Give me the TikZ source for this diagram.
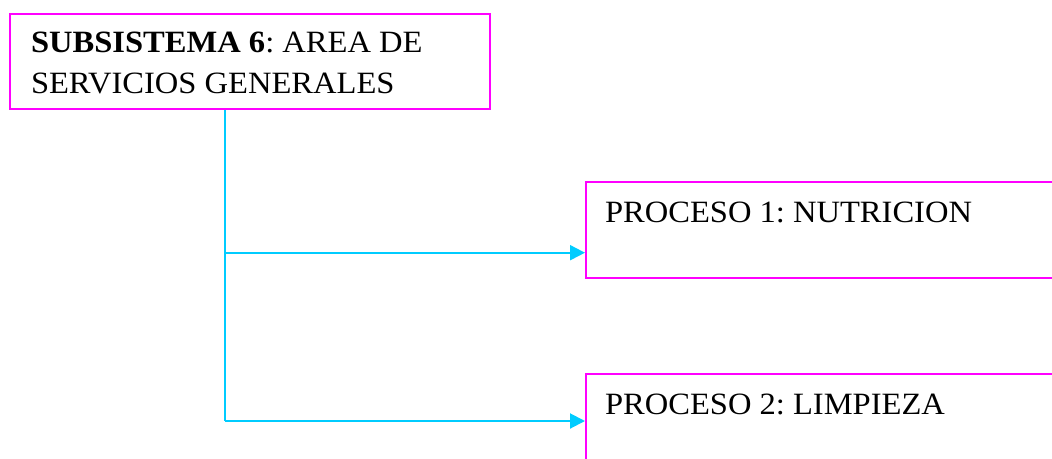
\documentclass[tikz,border=0pt]{standalone}
\usepackage{fontspec}
\setmainfont[FakeStretch=1.05]{Liberation Serif}
\usetikzlibrary{arrows.meta}
\definecolor{boxmag}{RGB}{255,0,255}
\definecolor{linecyan}{RGB}{0,204,255}
\tikzset{
  x=1pt, y=-1pt,
  procbox/.style={draw=boxmag, line width=2pt, rectangle, inner sep=0pt, anchor=north west},
  conn/.style={draw=linecyan, line width=2pt},
  arr/.style={conn, -{Triangle[length=15pt,width=15pt]}},
  boxfont/.style={font=\fontsize{31}{41}\selectfont\frenchspacing}
}
\begin{document}
\begin{tikzpicture}
\useasboundingbox (0,0) rectangle (1052,458);
\node[procbox, boxfont] (sub) at (9,13)
  {\parbox[t][95pt][t]{480pt}{\frenchspacing\leftskip=21pt\rule{0pt}{38pt}\textbf{SUBSISTEMA 6}: AREA DE\\ SERVICIOS GENERALES}};
\node[procbox, boxfont] (p1) at (585,181)
  {\parbox[t][96pt][t]{480pt}{\frenchspacing\leftskip=19pt\rule{0pt}{40.5pt}PROCESO 1: NUTRICION}};
\node[procbox, boxfont] (p2) at (585,373)
  {\parbox[t][96pt][t]{480pt}{\frenchspacing\leftskip=19pt\rule{0pt}{40.5pt}PROCESO 2: LIMPIEZA}};
\coordinate (j1) at (225,252.7);
\coordinate (j2) at (225,421);
\draw[conn] (sub.south -| j1) -- (j2);
\draw[arr] (j1) -- (j1 -| p1.west);
\draw[arr] (j2) -- (j2 -| p2.west);
\end{tikzpicture}
\end{document}
